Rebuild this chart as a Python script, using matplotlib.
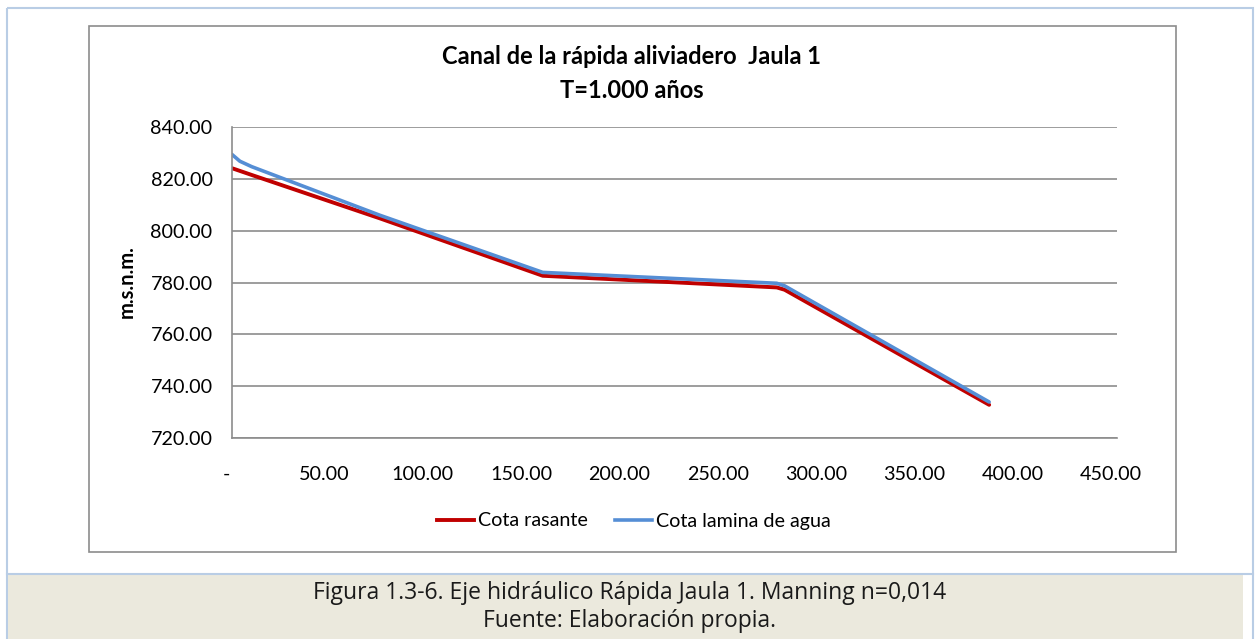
import matplotlib
matplotlib.use("Agg")
import matplotlib.pyplot as plt
from matplotlib.patches import Rectangle
from matplotlib.lines import Line2D
import matplotlib.transforms as mtransforms

plt.rcParams['font.family'] = ['Lato', 'DejaVu Sans']

# distance (m) vs elevation (m.s.n.m.)
x_rasante = [0, 10, 75, 158, 277, 281, 385]
y_rasante = [824.1, 821.5, 804.8, 782.6, 778.1, 777.2, 732.8]
x_agua = [0, 4, 10, 75, 158, 277, 281, 385]
y_agua = [829.4, 826.8, 824.7, 806.0, 783.9, 779.7, 778.7, 733.9]

x_ticks = [0, 50, 100, 150, 200, 250, 300, 350, 400, 450]
x_labels = ['-', '50.00', '100.00', '150.00', '200.00', '250.00', '300.00', '350.00', '400.00', '450.00']
y_ticks = [720, 740, 760, 780, 800, 820, 840]

W, H = 1259, 639
fig = plt.figure(figsize=(W / 100, H / 100), dpi=100)

# page background: blue border, chart frame, caption band
bg = fig.add_axes([0, 0, 1, 1], zorder=0)
bg.set_xlim(0, W)
bg.set_ylim(H, 0)
bg.axis('off')
bg.add_patch(Rectangle((7.5, 7.5), 1246, 700, fill=False, ec='#B9CDE5', lw=1.5))
bg.plot([7.5, 1253.5], [574, 574], color='#B9CDE5', lw=1.5)
bg.add_patch(Rectangle((8, 575), 1235, 70, fc='#EBE9DD', ec='none'))
bg.add_patch(Rectangle((89, 26), 1087, 526, fill=False, ec='#8C8C8C', lw=1.2))
bg.text(630, 593, 'Figura 1.3-6. Eje hidráulico Rápida Jaula 1. Manning n=0,014',
        ha='center', va='center', fontsize=16.5, family=['Open Sans', 'DejaVu Sans'], color='#1a1a1a')
bg.text(630, 621, 'Fuente: Elaboración propia.',
        ha='center', va='center', fontsize=16.5, family=['Open Sans', 'DejaVu Sans'], color='#1a1a1a')
bg.text(632, 56, 'Canal de la rápida aliviadero  Jaula 1', ha='center', va='center',
        fontsize=17, fontweight='bold')
bg.text(632, 91, 'T=1.000 años', ha='center', va='center', fontsize=17, fontweight='bold')
bg.text(127, 282, 'm.s.n.m.', ha='center', va='center', rotation=90, fontsize=14.5, fontweight='bold')

ax = fig.add_axes([232 / W, 1 - 438 / H, (1117 - 232) / W, (438 - 127) / H], zorder=1)
ax.set_facecolor('none')
ax.plot(x_rasante, y_rasante, color='#C00000', lw=2.8, solid_joinstyle='round', solid_capstyle='round')
ax.plot(x_agua, y_agua, color='#558ED5', lw=2.6, solid_joinstyle='round', solid_capstyle='round')
ax.set_xlim(0, 450)
ax.set_ylim(720, 840)
ax.set_xticks(x_ticks)
ax.set_xticklabels(x_labels)
ax.set_yticks(y_ticks)
ax.set_yticklabels([f'{v:.2f}' for v in y_ticks])
ax.grid(axis='y', color='#8C8C8C', lw=1.2)
ax.set_axisbelow(True)
for s in ['top', 'right']:
    ax.spines[s].set_visible(False)
for s in ['left', 'bottom']:
    ax.spines[s].set_color('#8C8C8C')
    ax.spines[s].set_linewidth(1.2)
ax.tick_params(length=0, labelsize=14.2, colors='black')
ax.tick_params(axis='x', pad=20)
ax.tick_params(axis='y', pad=14)
shift = mtransforms.ScaledTranslation(-6 / 100, 0, fig.dpi_scale_trans)
for lbl in ax.get_xticklabels():
    lbl.set_transform(lbl.get_transform() + shift)

handles = [Line2D([], [], color='#C00000', lw=2.8),
           Line2D([], [], color='#558ED5', lw=2.6)]
fig.legend(handles, ['Cota rasante', 'Cota lamina de agua'], loc='center',
           bbox_to_anchor=(634 / W, 1 - 521 / H), ncol=2, frameon=False, fontsize=14.2,
           handlelength=1.85, handletextpad=0.2, columnspacing=1.4)

fig.savefig('out.png', dpi=100)
